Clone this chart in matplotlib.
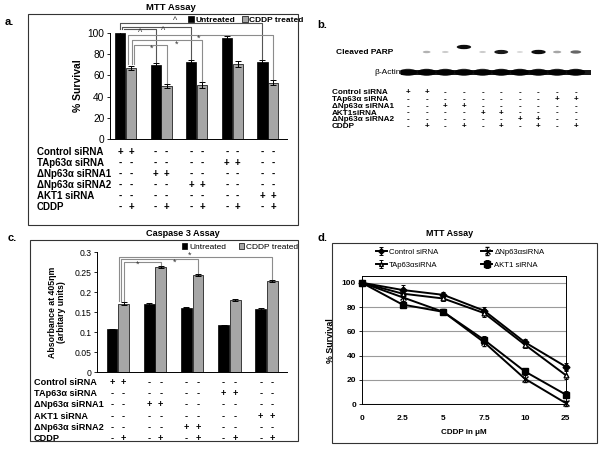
import numpy as np
import matplotlib.pyplot as plt
import matplotlib.transforms as mtransforms
from matplotlib.patches import Rectangle, Ellipse

plt.rcParams['font.family'] = ['Liberation Sans', 'DejaVu Sans']

W, H = 600, 449

# ---- panel a: MTT assay (% survival) ----
a_untreated = [100, 70, 73, 95, 73]
a_untreated_err = [2.5, 1.5, 1.2, 2.0, 1.2]
a_cddp = [67, 50, 51, 71, 53]
a_cddp_err = [2.0, 1.5, 2.5, 3.0, 2.5]
a_rows = ['Control siRNA', 'TAp63\u03b1 siRNA', '\u0394Np63\u03b1 siRNA1',
          '\u0394Np63\u03b1 siRNA2', 'AKT1 siRNA', 'CDDP']
a_signs = ['++--------', '------++--', '--++------',
           '----++----', '--------++', '-+-+-+-+-+']
# (from group, to group, series, symbol)
a_brackets = [(0, 4, 'u', '^'), (0, 2, 'u', '^'), (0, 1, 'u', '^'),
              (0, 4, 'c', '*'), (0, 2, 'c', '*'), (0, 1, 'c', '*')]

# ---- panel b: western blot ----
b_rows = ['Control siRNA', 'TAp63\u03b1 siRNA', '\u0394Np63\u03b1 siRNA1',
          'AKT1siRNA', '\u0394Np63\u03b1 siRNA2', 'CDDP']
b_signs = ['++--------', '--------++', '--++------',
           '----++----', '------++--', '-+-+-+-+-+']
parp_band = [0.0, 0.3, 0.2, 0.95, 0.2, 0.9, 0.15, 0.95, 0.35, 0.6]
actin_band = [0.85, 0.9, 0.88, 0.85, 0.85, 0.9, 0.9, 0.88, 0.85, 0.9]

# ---- panel c: caspase 3 assay ----
c_untreated = [0.107, 0.170, 0.161, 0.117, 0.158]
c_untreated_err = [0.001, 0.003, 0.001, 0.001, 0.002]
c_cddp = [0.171, 0.262, 0.242, 0.180, 0.227]
c_cddp_err = [0.004, 0.003, 0.003, 0.003, 0.002]
c_rows = ['Control siRNA', 'TAp63\u03b1 siRNA', '\u0394Np63\u03b1 siRNA1',
          'AKT1 siRNA', '\u0394Np63\u03b1 siRNA2', 'CDDP']
c_signs = ['++--------', '------++--', '--++------',
           '--------++', '----++----', '-+-+-+-+-+']
c_brackets = [(0, 4, '*'), (0, 2, '*'), (0, 1, '*')]

# ---- panel d: MTT dose response ----
d_doses = ['0', '2.5', '5', '7.5', '10', '25']
d_control = [100, 94, 90, 77, 51, 31]
d_control_err = [1, 4, 2, 3, 3, 3]
d_tap = [100, 91, 87, 75, 49, 24]
d_tap_err = [1, 3, 2, 3, 3, 3]
d_dnp = [100, 88, 76, 51, 21, 1]
d_dnp_err = [1, 3, 2, 3, 3, 2]
d_akt = [100, 82, 76, 53, 27, 8]
d_akt_err = [1, 3, 2, 3, 3, 3]


def box(x0, y0, x1, y1):
    return [x0 / W, 1 - y1 / H, (x1 - x0) / W, (y1 - y0) / H]


def fx(x):
    return x / W


def fy(y):
    return 1 - y / H


fig = plt.figure(figsize=(6, 4.49), dpi=100)


def frame(x0, y0, x1, y1):
    fig.add_artist(Rectangle((fx(x0), fy(y1)), (x1 - x0) / W, (y1 - y0) / H,
                             transform=fig.transFigure, fill=False,
                             lw=0.8, ec='#333333'))


def sign_table(ax, xs, rows, signs, y0, dy, label_x, fs):
    tr = mtransforms.blended_transform_factory(ax.transData, fig.transFigure)
    for i, (row, s) in enumerate(zip(rows, signs)):
        y = fy(y0 + i * dy)
        fig.text(fx(label_x), y, row, fontsize=fs, fontweight='bold',
                 ha='left', va='center')
        for x, ch in zip(xs, s):
            fig.text(x, y, ch, transform=tr, fontsize=fs, fontweight='bold',
                     ha='center', va='center')


GRAY = '#a6a6a6'

# ================= panel a =================
frame(28, 14, 298, 225)
fig.text(fx(171), fy(8), 'MTT Assay', fontsize=6.8, fontweight='bold', ha='center', va='center')
fig.text(fx(5), fy(22), 'a.', fontsize=8, fontweight='bold', ha='left', va='center')

ax_a = fig.add_axes(box(110, 33, 287, 139))
g = np.arange(len(a_untreated))
ua = g - 0.153
ca = g + 0.153
ax_a.bar(ua, a_untreated, 0.29, color='black', edgecolor='black', lw=0.5,
         yerr=a_untreated_err, capsize=2, error_kw=dict(elinewidth=0.7, capthick=0.7),
         label='Untreated')
ax_a.bar(ca, a_cddp, 0.29, color=GRAY, edgecolor='black', lw=0.5,
         yerr=a_cddp_err, capsize=2, error_kw=dict(elinewidth=0.7, capthick=0.7),
         label='CDDP treated')
ax_a.set_xlim(-0.44, 4.54)
ax_a.set_ylim(0, 100)
ax_a.set_yticks(range(0, 101, 20))
ax_a.set_xticks([])
ax_a.tick_params(axis='y', labelsize=7.3, length=2, width=0.6, pad=2)
for s in ['top', 'right']:
    ax_a.spines[s].set_visible(False)
for s in ['left', 'bottom']:
    ax_a.spines[s].set_linewidth(0.7)
ax_a.set_ylabel('% Survival', fontsize=7.5, fontweight='bold', labelpad=3)

a_levels = [109.2, 106.0, 103.5, 98.4, 93.0, 89.0]
a_left_off = [0.0, 0.06, 0.12, -0.08, 0.02, 0.09]
a_sym_x = [1.39, 1.05, 0.41, 2.04, 1.42, 0.74]
a_sym_y = [111.5, 102.5, 100.0, 95.0, 89.5, 85.5]
for (g0, g1, ser, sym), lvl, off, sx, sy in zip(a_brackets, a_levels, a_left_off, a_sym_x, a_sym_y):
    if ser == 'u':
        xs, tops, col = ua, np.add(a_untreated, a_untreated_err), '#555555'
    else:
        xs, tops, col = ca, np.add(a_cddp, a_cddp_err), '#8c8c8c'
    x0, x1 = xs[g0] + off, xs[g1]
    ax_a.plot([x0, x0, x1, x1], [tops[g0] + 1.5, lvl, lvl, tops[g1] + 1.5],
              color=col, lw=0.8, clip_on=False)
    ax_a.text(sx, sy, sym, fontsize=6.5, ha='center', va='center', color='#333333')

ax_a.legend(loc='center left', bbox_to_anchor=(fx(188), fy(20)), bbox_transform=fig.transFigure,
            ncol=2, frameon=False, handlelength=0.7, handleheight=0.7,
            handletextpad=0.2, columnspacing=0.8, borderpad=0, borderaxespad=0,
            prop=dict(weight='bold', size=6))

a_cols = np.ravel(np.column_stack([ua, ca]))
sign_table(ax_a, a_cols, a_rows, a_signs, 151.7, 11.0, 37, 7)

# ================= panel b =================
fig.text(fx(317), fy(25), 'b.', fontsize=8, fontweight='bold', ha='left', va='center')
ax_b = fig.add_axes(box(400, 35, 592, 82))
lanes = np.arange(1, len(parp_band) + 1)
ax_b.set_xlim(0.57, 10.87)
ax_b.set_ylim(82, 35)
ax_b.axis('off')
parp_y = [52, 52, 52, 47, 52, 52, 52, 52, 52, 52]
for x, v, y in zip(lanes, parp_band, parp_y):
    if v > 0:
        ax_b.add_patch(Ellipse((x, y), 0.25 + 0.55 * v, 1.5 + 3 * v,
                               color='black', alpha=v, lw=0))
ax_b.add_patch(Rectangle((0.6, 70.3), 10.2, 4.2, color='#1a1a1a', lw=0))
for x, v in zip(lanes, actin_band):
    ax_b.add_patch(Ellipse((x, 72.3), 1.0, 7.0, color='black', alpha=v, lw=0))
fig.text(fx(393), fy(52), 'Cleaved PARP', fontsize=6, fontweight='bold', ha='right', va='center')
fig.text(fx(401), fy(72), '\u03b2-Actin', fontsize=6, ha='right', va='center')
sign_table(ax_b, lanes, b_rows, b_signs, 92.7, 6.8, 332, 5.9)

# ================= panel c =================
frame(30, 240, 298, 441)
fig.text(fx(182.5), fy(234), 'Caspase 3 Assay', fontsize=6.6, fontweight='bold', ha='center', va='center')
fig.text(fx(8), fy(238), 'c.', fontsize=8, fontweight='bold', ha='left', va='center')

ax_c = fig.add_axes(box(97, 252, 287, 372))
g = np.arange(len(c_untreated))
uc = g - 0.155
cc = g + 0.155
ax_c.bar(uc, c_untreated, 0.29, color='black', edgecolor='black', lw=0.5,
         yerr=c_untreated_err, capsize=2, error_kw=dict(elinewidth=0.7, capthick=0.7),
         label='Untreated')
ax_c.bar(cc, c_cddp, 0.29, color=GRAY, edgecolor='black', lw=0.5,
         yerr=c_cddp_err, capsize=2, error_kw=dict(elinewidth=0.7, capthick=0.7),
         label='CDDP treated')
ax_c.set_xlim(-0.56, 4.55)
ax_c.set_ylim(0, 0.3)
c_ticks = [0, 0.05, 0.1, 0.15, 0.2, 0.25, 0.3]
ax_c.set_yticks(c_ticks)
ax_c.set_yticklabels(['0', '0.05', '0.1', '0.15', '0.2', '0.25', '0.3'])
ax_c.set_xticks([])
ax_c.tick_params(axis='y', labelsize=6.2, length=2, width=0.6, pad=2)
for s in ['top', 'right']:
    ax_c.spines[s].set_visible(False)
for s in ['left', 'bottom']:
    ax_c.spines[s].set_linewidth(0.7)
ax_c.set_ylabel('Absorbance at 405\u03b7m\n(arbitary units)', fontsize=6.3,
                fontweight='bold', labelpad=6, linespacing=1.0)

c_levels = [0.288, 0.2825, 0.276]
c_left_off = [-0.13, -0.07, 0.0]
c_sym_x = [1.92, 1.54, 0.52]
c_sym_y = [0.292, 0.275, 0.269]
c_tops = np.add(c_cddp, c_cddp_err)
for (g0, g1, sym), lvl, off, sx, sy in zip(c_brackets, c_levels, c_left_off, c_sym_x, c_sym_y):
    x0, x1 = cc[g0] + off, cc[g1]
    ax_c.plot([x0, x0, x1, x1], [c_tops[g0] + 0.003, lvl, lvl, c_tops[g1] + 0.003],
              color='#8c8c8c', lw=0.8, clip_on=False)
    ax_c.text(sx, sy, sym, fontsize=6.5, ha='center', va='center', color='#333333')

ax_c.legend(loc='center left', bbox_to_anchor=(fx(182), fy(247)), bbox_transform=fig.transFigure,
            ncol=2, frameon=False, fontsize=6, handlelength=0.6, handleheight=0.6,
            handletextpad=0.3, columnspacing=1.5, borderpad=0, borderaxespad=0)

c_cols = np.ravel(np.column_stack([uc, cc]))
sign_table(ax_c, c_cols, c_rows, c_signs, 382.3, 11.3, 34, 6.6)

# ================= panel d =================
frame(332, 243, 597, 443)
fig.text(fx(450), fy(233), 'MTT Assay', fontsize=6.5, fontweight='bold', ha='center', va='center')
fig.text(fx(318), fy(238), 'd.', fontsize=8, fontweight='bold', ha='left', va='center')

ax_d = fig.add_axes(box(361.7, 276, 565.7, 404.3))
xd = np.arange(len(d_doses))
series = [
    ('Control siRNA', d_control, d_control_err, dict(marker='D', ms=3.5, mfc='black')),
    ('TAp63\u03b1siRNA', d_tap, d_tap_err, dict(marker='^', ms=3.5, mfc='white')),
    ('\u0394Np63\u03b1siRNA', d_dnp, d_dnp_err, dict(marker='x', ms=4.5, mew=1)),
    ('AKT1 siRNA', d_akt, d_akt_err, dict(marker='s', ms=5, mfc='black')),
]
for name, vals, err, st in series:
    ax_d.errorbar(xd, vals, yerr=err, color='black', lw=1.4, mec='black',
                  capsize=1.5, elinewidth=0.7, capthick=0.7, label=name,
                  clip_on=False, zorder=3, **st)
ax_d.set_xlim(0, 5)
ax_d.set_ylim(0, 105.5)
ax_d.set_xticks(xd)
ax_d.set_xticklabels(d_doses)
ax_d.set_yticks(range(0, 101, 20))
ax_d.yaxis.grid(True, color='#9a9a9a', lw=0.8)
ax_d.set_axisbelow(True)
ax_d.tick_params(axis='x', length=0, pad=8, labelsize=6)
ax_d.tick_params(axis='y', length=2, width=0.6, pad=2, labelsize=6)
for lab in ax_d.get_xticklabels() + ax_d.get_yticklabels():
    lab.set_fontweight('bold')
for s in ax_d.spines.values():
    s.set_linewidth(0.7)
ax_d.set_ylabel('% Survival', fontsize=6.4, fontweight='bold', labelpad=5)
ax_d.set_xlabel('CDDP in \u03bcM', fontsize=5.8, fontweight='bold', labelpad=5)
ax_d.legend(loc='center left', bbox_to_anchor=(fx(376), fy(258.5)), bbox_transform=fig.transFigure,
            ncol=2, frameon=False, fontsize=5.6, handlelength=1.4, markerscale=0.8,
            handletextpad=0.3, columnspacing=5.5, labelspacing=0.7,
            borderpad=0, borderaxespad=0)

fig.savefig('out.png', dpi=100)
